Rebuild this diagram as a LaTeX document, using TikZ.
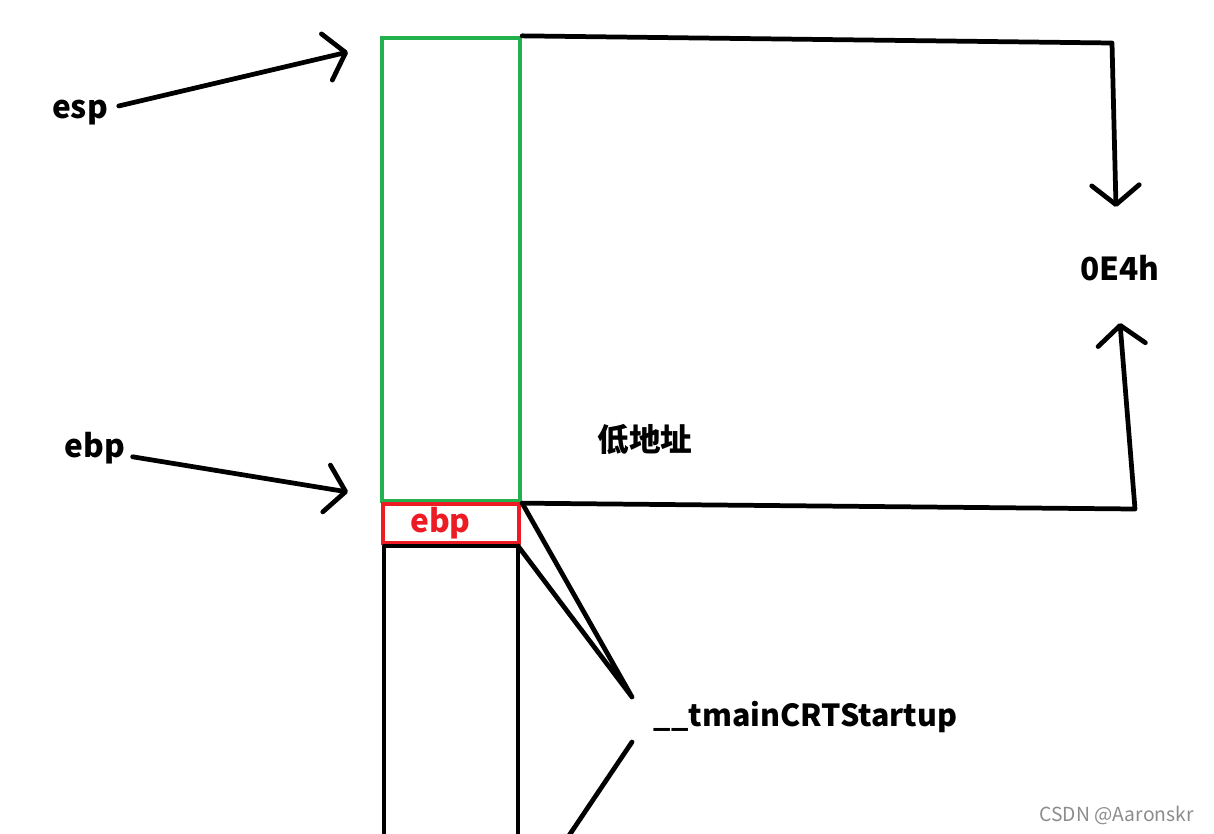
\documentclass[tikz,border=0pt]{standalone}
\usepackage{fontspec}
\setmainfont{Noto Sans CJK SC}
\usetikzlibrary{arrows.meta}
\definecolor{framegreen}{RGB}{34,177,76}
\definecolor{savedred}{RGB}{237,28,36}
\tikzset{
  ink/.style={line width=2.7pt, line cap=round, line join=round},
  pointer/.style={ink, -{Straight Barb[length=11pt,width=27pt,round]}},
  regname/.style={font=\fontsize{18}{20}\selectfont\bfseries, inner sep=2pt},
}
\begin{document}
\begin{tikzpicture}[x=0.02cm,y=-0.02cm]
 \useasboundingbox (0,0) rectangle (1214,833);
 \node[draw=framegreen, line width=2.5pt, minimum width=2.76cm, minimum height=9.26cm, inner sep=0pt] (frame) at (451,269.5) {};
 \node[draw=savedred, line width=2.5pt, minimum width=2.72cm, minimum height=0.7cm, inner sep=0pt, text=savedred, regname] (saved) at (451,523.5) {ebp\kern12pt};
 \coordinate (boxNW) at (384,546);
 \coordinate (boxNE) at (518,546);
 \draw[ink] (384,840) -- (boxNW) -- (boxNE) -- (518,840);
 \node[regname] (esp) at (80,113) {esp};
 \node[regname] (ebp) at (95,448) {ebp};
 \coordinate (espTip) at (348,52);
 \coordinate (ebpTip) at (348,492);
 \draw[pointer] ([xshift=4pt,yshift=4pt]esp.east) -- (espTip);
 \draw[pointer] ([xshift=2pt,yshift=-5pt]ebp.east) -- (ebpTip);
 \node[regname] (offset) at (1120,268) {0E4h};
 \coordinate (topTurn) at (1112,43);
 \coordinate (topTip) at (1116,207);
 \coordinate (lowTurn) at (1135,509);
 \coordinate (lowTip) at (1120,323);
 \draw[pointer] (frame.north east) -- (topTurn) -- (topTip);
 \draw[pointer] (frame.south east) -- (lowTurn) -- (lowTip);
 \node[regname] (lowaddr) at (645,440) {低地址};
 \node[regname, font=\fontsize{17.3}{20}\selectfont\bfseries, anchor=west] (startup) at (650,717) {\_\_tmainCRTStartup};
 \coordinate (fan) at (632,697);
 \coordinate (fanLow) at (632,742);
 \draw[ink] (frame.south east) -- (fan) -- (boxNE);
 \draw[ink] (fanLow) -- (566,840);
 \node[font=\fontsize{11}{13}\selectfont, text=black!45, anchor=east] (mark) at (1200,815) {CSDN @Aaronskr};
\end{tikzpicture}
\end{document}
